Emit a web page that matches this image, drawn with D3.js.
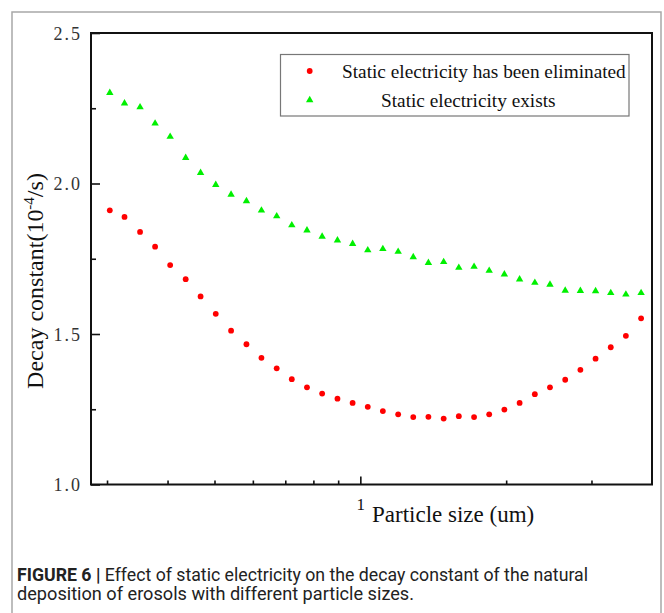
<!DOCTYPE html>
<html>
<head>
<meta charset="utf-8">
<script src="https://cdn.jsdelivr.net/npm/d3@7/dist/d3.min.js"></script>
<style>
  html, body { margin: 0; padding: 0; background: #fff; }
  svg { display: block; }
</style>
</head>
<body>
<svg id="chart" width="664" height="613"></svg>
<script>
// Particle sizes (um), log-spaced sampling
const sizes = [0.304, 0.326, 0.351, 0.377, 0.405, 0.436, 0.468, 0.503, 0.541, 0.582,
               0.625, 0.672, 0.722, 0.776, 0.834, 0.897, 0.964, 1.036, 1.113, 1.197,
               1.286, 1.382, 1.486, 1.597, 1.717, 1.845, 1.983, 2.132, 2.292, 2.463,
               2.648, 2.846, 3.059, 3.288, 3.533, 3.798];

// Decay constant (10^-4 /s), static electricity eliminated
const eliminated = [1.911, 1.889, 1.839, 1.790, 1.729, 1.682, 1.625, 1.567, 1.511, 1.466,
                    1.421, 1.386, 1.350, 1.323, 1.302, 1.285, 1.271, 1.258, 1.244, 1.233,
                    1.224, 1.225, 1.219, 1.227, 1.224, 1.233, 1.249, 1.271, 1.300, 1.323,
                    1.348, 1.381, 1.418, 1.456, 1.494, 1.552];

// Decay constant (10^-4 /s), static electricity present
const exists = [2.305, 2.270, 2.257, 2.203, 2.159, 2.089, 2.039, 1.999, 1.967, 1.945,
                1.914, 1.895, 1.865, 1.848, 1.827, 1.815, 1.803, 1.782, 1.786, 1.777,
                1.759, 1.740, 1.743, 1.724, 1.727, 1.714, 1.702, 1.685, 1.674, 1.668,
                1.648, 1.647, 1.646, 1.640, 1.635, 1.640];

const seriesNames = ["Static electricity has been eliminated", "Static electricity exists"];
const xTicks = [0.3, 0.4, 0.5, 0.6, 0.7, 0.8, 0.9, 1, 2, 3];
const xLabelled = [1];
const yTicks = [1.0, 1.25, 1.5, 1.75, 2.0, 2.25, 2.5];
const yLabelled = [1.0, 1.5, 2.0, 2.5];
const caption1Bold = "FIGURE 6";
const caption1Rest = "Effect of static electricity on the decay constant of the natural";
const caption2 = "deposition of erosols with different particle sizes.";

const RED = "#ff0000", GREEN = "#00f000";
const svg = d3.select("#chart");

// outer figure frame (open at the bottom edge)
svg.append("path")
  .attr("d", "M12,616 L12,12 L661,12 L661,616")
  .attr("fill", "none").attr("stroke", "#a8a8a8").attr("stroke-width", 1.5);

const plot = { left: 91, right: 652, top: 33, bottom: 484.5 };

const x = d3.scaleLog().domain([0.278, 4.0]).range([plot.left, plot.right]);
const y = d3.scaleLinear().domain([1.0, 2.5]).range([plot.bottom, plot.top]);

const serif = "'Liberation Serif', 'Times New Roman', serif";

// x axis (ticks pointing inward)
const xAxis = svg.append("g")
  .attr("transform", `translate(0,${plot.bottom})`)
  .call(d3.axisBottom(x).tickValues(xTicks).tickSizeOuter(0)
        .tickFormat(d => xLabelled.includes(d) ? d3.format("d")(d) : ""));
xAxis.select(".domain").remove();
xAxis.selectAll(".tick line")
  .attr("y2", d => xLabelled.includes(d) ? -8 : -4)
  .attr("stroke", "#111").attr("stroke-width", 1.6);
xAxis.selectAll(".tick text")
  .attr("y", 20).attr("dy", "0.35em")
  .attr("font-family", serif).attr("font-size", 17).attr("fill", "#111");

// y axis (ticks pointing inward)
const yAxis = svg.append("g")
  .attr("transform", `translate(${plot.left},0)`)
  .call(d3.axisLeft(y).tickValues(yTicks).tickSizeOuter(0)
        .tickFormat(d => yLabelled.includes(d) ? d3.format(".1f")(d) : ""));
yAxis.select(".domain").remove();
yAxis.selectAll(".tick line")
  .attr("x2", d => yLabelled.includes(d) ? 9 : 5)
  .attr("stroke", "#111").attr("stroke-width", 1.6);
yAxis.selectAll(".tick text")
  .attr("x", -9).attr("dy", "0.35em")
  .attr("font-family", serif).attr("font-size", 18).attr("fill", "#333")
  .attr("letter-spacing", "2px");

// plot frame
svg.append("rect")
  .attr("x", plot.left).attr("y", plot.top)
  .attr("width", plot.right - plot.left).attr("height", plot.bottom - plot.top)
  .attr("fill", "none").attr("stroke", "#111").attr("stroke-width", 2);

// axis titles
svg.append("text")
  .attr("x", 372).attr("y", 522)
  .attr("font-family", serif).attr("font-size", 23).attr("fill", "#111")
  .text("Particle size (um)");

const yTitle = svg.append("text")
  .attr("transform", "translate(43,281) rotate(-90)")
  .attr("text-anchor", "middle")
  .attr("font-family", serif).attr("font-size", 24).attr("fill", "#111");
yTitle.append("tspan").text("Decay constant(10");
yTitle.append("tspan").attr("dy", -9).attr("font-size", 15).text("-4");
yTitle.append("tspan").attr("dy", 9).text("/s)");

// markers
const triPath = s => `M0,${-s * 0.5} L${s * 0.58},${s * 0.5} L${-s * 0.58},${s * 0.5} Z`;

svg.append("g").selectAll("circle")
  .data(sizes.map((s, i) => [s, eliminated[i]]))
  .join("circle")
  .attr("cx", d => x(d[0])).attr("cy", d => y(d[1]))
  .attr("r", 2.9).attr("fill", RED);

svg.append("g").selectAll("path")
  .data(sizes.map((s, i) => [s, exists[i]]))
  .join("path")
  .attr("transform", d => `translate(${x(d[0])},${y(d[1])})`)
  .attr("d", triPath(6.4)).attr("fill", GREEN);

// legend
const lg = svg.append("g");
lg.append("rect")
  .attr("x", 280.5).attr("y", 54.5).attr("width", 348.5).attr("height", 61.5)
  .attr("fill", "#fff").attr("stroke", "#777").attr("stroke-width", 1.2);
lg.append("circle").attr("cx", 309.7).attr("cy", 71).attr("r", 2.9).attr("fill", RED);
lg.append("path").attr("transform", "translate(309.7,99)").attr("d", triPath(6.4)).attr("fill", GREEN);
lg.append("text")
  .attr("x", 342).attr("y", 78)
  .attr("font-family", serif).attr("font-size", 19.3).attr("fill", "#111")
  .text(seriesNames[0]);
lg.append("text")
  .attr("x", 381).attr("y", 107)
  .attr("font-family", serif).attr("font-size", 19.3).attr("fill", "#111")
  .text(seriesNames[1]);

// caption
const sansNarrow = "'Liberation Sans Narrow', 'Roboto', 'Liberation Sans', sans-serif";
const cap1 = svg.append("text")
  .attr("x", 17).attr("y", 581)
  .attr("font-family", sansNarrow).attr("font-size", 18).attr("fill", "#222")
  .attr("textLength", 571).attr("lengthAdjust", "spacingAndGlyphs");
cap1.append("tspan").attr("font-weight", "bold").text(caption1Bold + " ");
cap1.append("tspan").attr("font-weight", "bold").text("| ");
cap1.append("tspan").text(caption1Rest);

svg.append("text")
  .attr("x", 17).attr("y", 600)
  .attr("font-family", sansNarrow).attr("font-size", 18).attr("fill", "#222")
  .attr("textLength", 397).attr("lengthAdjust", "spacingAndGlyphs")
  .text(caption2);
</script>
</body>
</html>
